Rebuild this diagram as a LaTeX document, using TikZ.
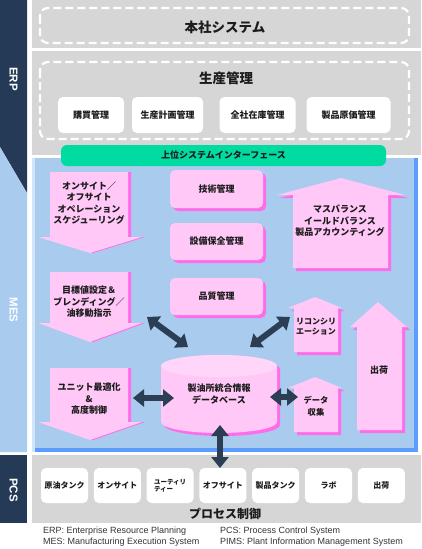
\documentclass[tikz,border=0pt]{standalone}
\usepackage{fontspec}
\setmainfont{Liberation Sans}
\newfontfamily\jp{Noto Sans CJK JP}
\usetikzlibrary{arrows.meta,shadows}

\definecolor{navy}{HTML}{243A56}
\definecolor{mesblue}{HTML}{A9CBEE}
\definecolor{palestrip}{HTML}{D2E6FA}
\definecolor{edgeblue}{HTML}{5A9CFF}
\definecolor{panelgray}{HTML}{D6D6D6}
\definecolor{ifgreen}{HTML}{00DBA2}
\definecolor{blockpink}{HTML}{FFC8F6}
\definecolor{toppink}{HTML}{FFD6FA}
\definecolor{shadowpink}{HTML}{FF6CEA}
\definecolor{darrow}{HTML}{2B3E54}
\definecolor{ink}{HTML}{1C1C1C}

\begin{document}
\begin{tikzpicture}[x=1pt,y=-1pt,
  every node/.style={font=\jp\bfseries\fontsize{9}{11.5}\selectfont,text=ink,align=center,inner sep=0pt},
  sidelabel/.style={font=\rmfamily\bfseries\fontsize{11.5}{12}\selectfont,text=white,rotate=-90},
  dashframe/.style={draw=white,line width=2.2pt,dash pattern=on 8pt off 4pt,rounded corners=8pt},
  wbox/.style={fill=white,rounded corners=5pt},
  pinkbox/.style={fill=blockpink,rounded corners=5pt,general shadow={fill=shadowpink,shadow xshift=3pt,shadow yshift=-3pt}},
  upblock/.style={fill=blockpink,general shadow={fill=shadowpink,shadow xshift=3pt,shadow yshift=-3pt}},
  downblock/.style={fill=blockpink,general shadow={fill=shadowpink,shadow xshift=3pt,shadow yshift=0pt}},
  dbl/.style={darrow,line width=6pt,{Triangle[length=11pt,width=17pt]}-{Triangle[length=11pt,width=17pt]}}]
\useasboundingbox (0,0) rectangle (421,549);

% left strip
\fill[navy] (0,0) -- (27,0) -- (27,193) -- (0,147) -- cycle;
\fill[mesblue] (0,147) -- (27,193) -- (27,452) -- (0,452) -- cycle;
\fill[navy] (0,455) rectangle (27,523);
\node[sidelabel] (erp) at (13.5,79) {ERP};
\node[sidelabel] (mes) at (13.5,310) {MES};
\node[sidelabel] (pcs) at (13.5,490) {PCS};

% ERP
\fill[panelgray] (32,0) rectangle (421,48);
\fill[panelgray] (32,51) rectangle (421,155);
\draw[dashframe] (40,8) rectangle (409,43);
\draw[dashframe] (40,62) rectangle (409,139);
\node[font=\jp\bfseries\fontsize{13.5}{14}\selectfont] (hq) at (225,27) {本社システム};
\node[font=\jp\bfseries\fontsize{13.5}{14}\selectfont] (prod) at (226,78) {生産管理};
\node[wbox,minimum width=66pt,minimum height=36pt] (buy) at (91,115) {購買管理};
\node[wbox,minimum width=71pt,minimum height=36pt] (plan) at (167.5,115) {生産計画管理};
\node[wbox,minimum width=76pt,minimum height=36pt] (stock) at (257.5,115) {全社在庫管理};
\node[wbox,minimum width=84pt,minimum height=36pt] (cost) at (348.5,115) {製品原価管理};

% MES
\fill[edgeblue] (35,158) rectangle (418,452);
\fill[mesblue] (32,158) rectangle (414,448);
\fill[palestrip] (32,158) rectangle (35,452);
\node[fill=ifgreen,rounded corners=6pt,minimum width=325pt,minimum height=21pt] (ifbar) at (223.5,155.5) {上位システムインターフェース};

\fill[downblock] (50,172) -- (128,172) -- (128,237) -- (142,237) -- (90,253) -- (38,237) -- (50,237) -- cycle;
\node (op) at (89,203) {オンサイト／\\オフサイト\\オペレーション\\スケジューリング};
\fill[downblock] (50,272) -- (128,272) -- (128,323) -- (142,323) -- (90,342) -- (38,323) -- (50,323) -- cycle;
\node (blend) at (89,302) {目標値設定＆\\ブレンディング／\\油移動指示};
\fill[downblock] (50,368) -- (128,368) -- (128,422) -- (142,422) -- (90,440) -- (38,422) -- (50,422) -- cycle;
\node (unit) at (89,399) {ユニット最適化\\\&\\高度制御};

\node[pinkbox,minimum width=93pt,minimum height=38pt] (tech) at (216.5,189) {技術管理};
\node[pinkbox,minimum width=93pt,minimum height=37pt] (maint) at (216.5,241.5) {設備保全管理};
\node[pinkbox,minimum width=93pt,minimum height=37pt] (quality) at (216.5,296.5) {品質管理};

\fill[upblock] (293,268) -- (293,195) -- (277,195) -- (341,178) -- (405,195) -- (388,195) -- (388,268) -- cycle;
\node (mass) at (340,221) {マスバランス\\イールドバランス\\製品アカウンティング};
\fill[upblock] (294,352) -- (294,308) -- (288,308) -- (315,297) -- (342,308) -- (338,308) -- (338,352) -- cycle;
\node[font=\jp\bfseries\fontsize{8}{10}\selectfont] (recon) at (316,327) {リコンシリ\\エーション};
\fill[upblock] (294,432) -- (294,388) -- (288,388) -- (315,377) -- (342,388) -- (338,388) -- (338,432) -- cycle;
\node[font=\jp\bfseries\fontsize{8.3}{12}\selectfont] (collect) at (316,406) {データ\\収集};
\fill[upblock] (357,430) -- (357,327) -- (350,327) -- (378,302) -- (407,327) -- (402,327) -- (402,430) -- cycle;
\node (ship) at (379,370) {出荷};

% database
\fill[blockpink,general shadow={fill=shadowpink,shadow xshift=3pt,shadow yshift=-3pt}]
  (161,366) -- (161,422) arc[start angle=180,end angle=360,x radius=58pt,y radius=11pt]
  -- (277,366) arc[start angle=0,end angle=180,x radius=58pt,y radius=11pt] -- cycle;
\fill[toppink] (219,366) ellipse[x radius=58pt,y radius=11pt];
\node (db) at (219,394) {製油所統合情報\\データベース};

% PCS
\fill[panelgray] (32,455) rectangle (421,523);
\node[wbox,minimum width=47pt,minimum height=35pt,font=\jp\bfseries\fontsize{8}{10}\selectfont] (crude) at (64.5,485.5) {原油タンク};
\node[wbox,minimum width=47pt,minimum height=35pt,font=\jp\bfseries\fontsize{8}{10}\selectfont] (onsite) at (117.3,485.5) {オンサイト};
\node[wbox,minimum width=47pt,minimum height=35pt,align=left,font=\jp\bfseries\fontsize{6.5}{7.5}\selectfont] (util) at (170.1,485.5) {ユーティリ\\ティー};
\node[wbox,minimum width=47pt,minimum height=35pt,font=\jp\bfseries\fontsize{8}{10}\selectfont] (off) at (222.9,485.5) {オフサイト};
\node[wbox,minimum width=47pt,minimum height=35pt,font=\jp\bfseries\fontsize{8}{10}\selectfont] (tank) at (275.7,485.5) {製品タンク};
\node[wbox,minimum width=47pt,minimum height=35pt,font=\jp\bfseries\fontsize{8}{10}\selectfont] (lab) at (328.5,485.5) {ラボ};
\node[wbox,minimum width=47pt,minimum height=35pt,font=\jp\bfseries\fontsize{8}{10}\selectfont] (out) at (381.3,485.5) {出荷};
\node[font=\jp\bfseries\fontsize{12}{13}\selectfont] (ctrl) at (225,514) {プロセス制御};

% double arrows
\coordinate (blendtip) at (147,317);
\coordinate (dbnw) at (188,347);
\coordinate (recontip) at (290,317);
\coordinate (dbne) at (250,347);
\coordinate (unittip) at (133,398);
\coordinate (dbw) at (174,398);
\coordinate (dbe) at (270,397);
\coordinate (collecttip) at (298,397);
\coordinate (dbs) at (220,425);
\draw[dbl] (blendtip) -- (dbnw);
\draw[dbl] (recontip) -- (dbne);
\draw[dbl] (unittip) -- (dbw);
\draw[dbl] (dbe) -- (collecttip);
\draw[dbl] (dbs) -- (220,468);

% legend
\node[anchor=west,align=left,font=\rmfamily\fontsize{9}{11}\selectfont,text=black!80] (leg1) at (43,536.5) {ERP: Enterprise Resource Planning\\MES: Manufacturing Execution System};
\node[anchor=west,align=left,font=\rmfamily\fontsize{9}{11}\selectfont,text=black!80] (leg2) at (220,536.5) {PCS: Process Control System\\PIMS: Plant Information Management System};
\end{tikzpicture}
\end{document}
